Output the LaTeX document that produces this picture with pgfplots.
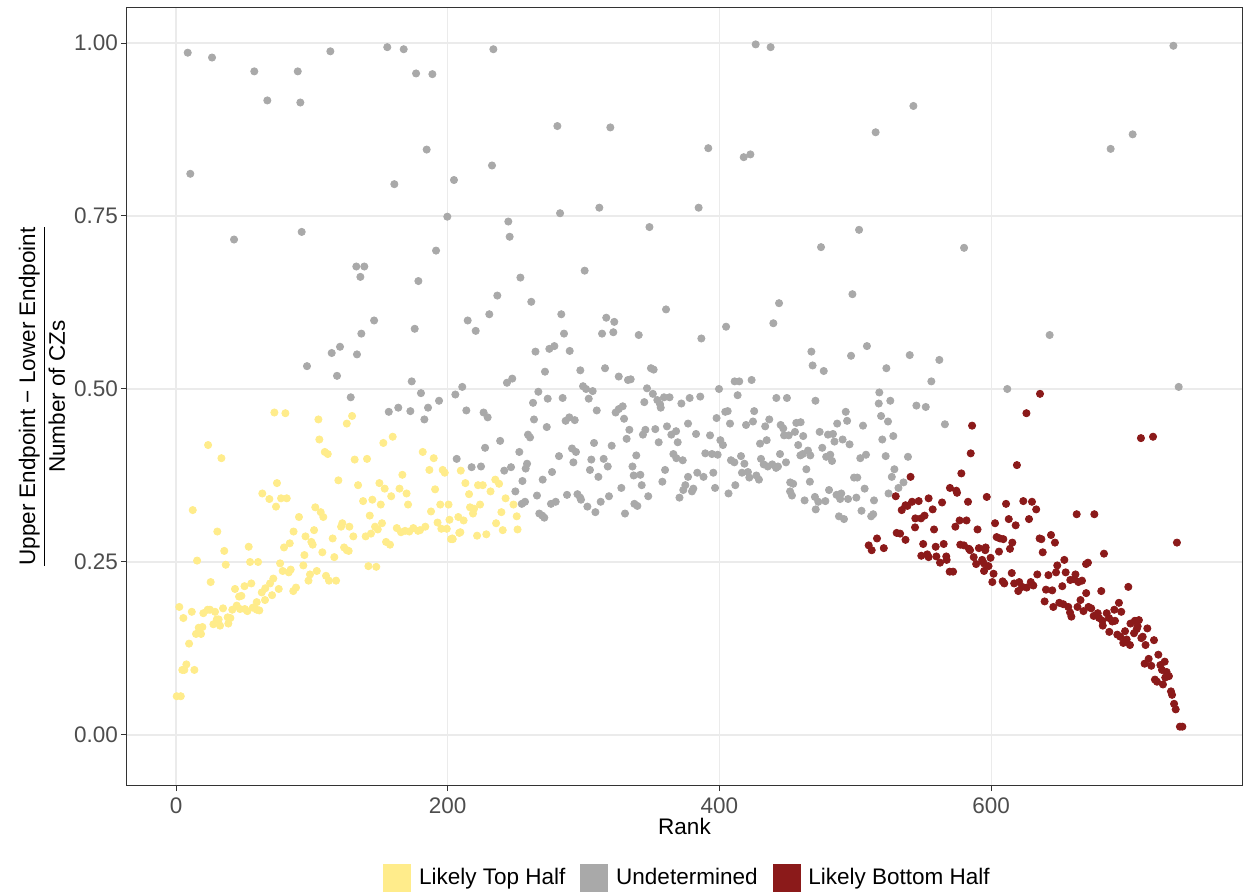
\documentclass[border=0pt]{standalone}
\usepackage{fontspec}
\setmainfont{Liberation Sans}
\usepackage{amsmath}
\usepackage{pgfplots}
\pgfplotsset{compat=1.18}
\definecolor{yelC}{HTML}{FFEC8B}
\definecolor{grayC}{HTML}{A9A9A9}
\definecolor{redC}{HTML}{8B1A1A}
\definecolor{gridC}{HTML}{EBEBEB}
\definecolor{tickC}{HTML}{4D4D4D}
\definecolor{frameC}{HTML}{333333}
\newcommand{\fs}{\fontsize{11.25bp}{13.5bp}\selectfont}
\begin{document}
\begin{tikzpicture}
\useasboundingbox (-63.5bp,-54.5bp) rectangle (558bp,392.5bp);
\begin{axis}[
  at={(0,0)}, anchor=south west,
  scale only axis, width=557.5bp, height=388.5bp,
  xmin=-36.1, xmax=784.7, ymin=-0.0723, ymax=1.0506,
  axis line style={frameC, line width=0.5bp},
  xtick={0,200,400,600}, ytick={0,0.25,0.5,0.75,1},
  yticklabels={0.00,0.25,0.50,0.75,1.00},
  xtick pos=bottom, ytick pos=left,
  tick align=outside, major tick length=3bp,
  tick style={frameC, line width=0.5bp},
  grid=major, major grid style={gridC, line width=0.6bp},
  /pgf/number format/assume math mode=true,
  ticklabel style={font=\fs, text=tickC},
  yticklabel style={xshift=2bp},
  xlabel={Rank},
  xlabel style={font=\fs, at={(axis description cs:0.5,0)}, anchor=center, yshift=-20.5bp},
  ylabel={$\dfrac{\mbox{Upper Endpoint − Lower Endpoint}}{\mbox{Number of CZs}}$},
  ylabel style={font=\fs, at={(axis description cs:0,0.5)}, anchor=center, yshift=42.5bp},
  legend style={at={(axis description cs:0.5,0)}, anchor=center, yshift=-46.5bp, xshift=1.5bp, draw=none, fill=none, font=\fs, legend columns=3, /tikz/every even column/.append style={column sep=6.5bp}, nodes={inner sep=1bp}},
  legend cell align=left,
]
\addlegendimage{legend image code/.code={\fill[yelC] (0bp,-6.75bp) rectangle (13.5bp,6.75bp);}}
\addlegendentry{\hspace{3bp}Likely Top Half}
\addlegendimage{legend image code/.code={\fill[grayC] (0bp,-6.75bp) rectangle (13.5bp,6.75bp);}}
\addlegendentry{\hspace{3bp}Undetermined}
\addlegendimage{legend image code/.code={\fill[redC] (0bp,-6.75bp) rectangle (13.5bp,6.75bp);}}
\addlegendentry{\hspace{3bp}Likely Bottom Half}
% Undetermined
\addplot[only marks, mark=*, mark size=1.8bp, color=grayC, mark options={draw=none}, forget plot] coordinates {
(8.6,.986)(26.5,.979)(57.6,.959)(89.6,.959)(67.2,.917)(91.5,.914)(113.6,.988)(155.5,.994)(167.6,.991)(176.7,.956)(188.7,.955)(233.6,.991)(10.5,.811)(184.5,.846)(160.7,.796)(204.6,.802)(232.6,.823)(199.7,.749)(244.6,.742)(245.6,.720)(42.7,.716)(92.5,.727)(191.4,.700)(132.7,.677)(138.6,.677)(135.7,.662)(178.4,.656)(253.5,.661)(236.5,.635)(261.5,.626)(230.6,.608)(214.7,.599)(220.6,.584)(145.8,.599)(136.4,.580)(175.7,.587)
(426.7,.998)(437.7,.994)(280.7,.880)(319.7,.878)(391.8,.848)(417.9,.835)(422.8,.839)(515,.871)(282.7,.754)(311.6,.762)(384.7,.762)(348.5,.734)(502.8,.730)(474.8,.705)(300.8,.671)(497.9,.637)(443.9,.624)(283.6,.608)(360.7,.615)(316.7,.603)(322.6,.597)(285.6,.580)(313.6,.580)(321.9,.582)(340.6,.578)(386.7,.573)(404.9,.590)(439.7,.595)
(734.2,.996)(542.8,.909)(704.2,.868)(688,.847)(580.1,.704)(643.1,.578)(540.1,.549)(561.9,.542)(556,.511)(611.9,.500)(738.1,.503)(545,.476)(551.9,.474)(566,.449)
(274.8,.558)(278.5,.562)(289.8,.555)(271.6,.525)(297.6,.527)(315.8,.530)(325.9,.518)(332.7,.513)(334.7,.514)(349.6,.530)(351.6,.528)(411.2,.511)(414.6,.511)(273.6,.486)(284.6,.487)(299.6,.504)(301.8,.500)(306.7,.497)(303.8,.486)(309.7,.469)(323.6,.466)(325.9,.471)(328.8,.475)(329.8,.457)(346.7,.501)(351,.493)(344.7,.481)(354.3,.484)(356.3,.478)(356.8,.473)(359.2,.488)(363.3,.488)(372,.479)(378.1,.487)(385.9,.489)(399.7,.500)(404.3,.467)(406.1,.468)(413.4,.491)(397.9,.458)(407.8,.450)(286.8,.454)(289.5,.459)(293.5,.455)(272.9,.445)(333.7,.441)(343.7,.434)(345.5,.441)(352.8,.442)(361.4,.446)(364.6,.434)(368.1,.439)(376.9,.450)(382.8,.435)(393.1,.433)(400.7,.426)(402.6,.419)(331.7,.428)(307.7,.422)(320.7,.418)(355.3,.423)(369.3,.423)(291.5,.414)(294.4,.409)(281.9,.403)(292.5,.394)(305.7,.398)(314.8,.399)(317.8,.388)(304.7,.383)(310.9,.373)(338.8,.404)(336,.388)(336.9,.375)(341.8,.376)(342.8,.361)(327.8,.357)(358,.366)(360,.383)(366.1,.406)(368.3,.400)(373,.397)(376.9,.373)(383.7,.379)(388.3,.373)(395.5,.379)(389.6,.407)(394.5,.406)(398.7,.405)(408.5,.397)(411,.394)(411.7,.361)(406.7,.349)(396.8,.357)(374.9,.361)(373.4,.354)(380.8,.356)(379.8,.352)(370.6,.343)(269.9,.369)(276.8,.380)(287.8,.347)(295.5,.348)(297.5,.343)(298.1,.340)(276,.334)(279.5,.337)(302.8,.330)(308.7,.322)(312.6,.337)(318.7,.345)(330.5,.320)(337.4,.334)(339.6,.331)(347.6,.345)(269.6,.317)(271.1,.314)
(467.7,.554)(468.6,.534)(476.8,.526)(496.9,.548)(508.6,.562)(522.9,.530)(423.7,.513)(441.9,.487)(449.7,.487)(470.7,.483)(517.7,.495)(517.3,.479)(525.8,.483)(425.6,.468)(419.6,.448)(424.7,.453)(433.7,.446)(436.7,.456)(445.1,.448)(447,.443)(456.6,.451)(459.8,.452)(455.6,.438)(447.6,.433)(451,.433)(461.7,.432)(473.8,.438)(479.9,.434)(483.6,.435)(486.7,.450)(494,.454)(493,.467)(505.7,.447)(519,.461)(524.1,.453)(528,.432)(519.9,.427)(490.7,.427)(495.8,.420)(484.7,.424)(429.9,.421)(434.8,.426)(458,.419)(475.7,.415)(418.4,.392)(415.9,.403)(430.6,.399)(432.6,.391)(435.6,.388)(438.9,.391)(441.7,.386)(443.1,.388)(444.6,.406)(449,.394)(459.6,.404)(461.3,.406)(466.9,.404)(465.2,.411)(464,.384)(478.6,.402)(481.6,.405)(482.9,.396)(503.7,.400)(507.9,.405)(522.4,.403)(538.8,.402)(416.6,.379)(421,.380)(422,.372)(427.2,.375)(429.1,.369)(452.1,.365)(454.3,.363)(466.6,.366)(452,.352)(453.4,.346)(470.3,.344)(472.8,.337)(462.7,.339)(470.9,.326)(478,.338)(480.7,.354)(486.2,.347)(489.7,.349)(488.9,.341)(494.7,.341)(499.1,.372)(501.5,.372)(500.8,.343)(506.9,.356)(513.8,.339)(504.6,.324)(488,.316)(491.7,.312)(511.7,.316)(513.2,.319)(526.9,.373)(535.5,.365)(531.8,.357)(524.5,.349)(528.8,.384)
(173.5,.511)(180.3,.494)(156.6,.467)(163.6,.473)(172.5,.468)(185.5,.473)(182.8,.456)(193.6,.483)(205.6,.492)(210.7,.503)(213.7,.469)(226.4,.466)(229.4,.459)(243.6,.509)(247.5,.515)(264.6,.554)(266.7,.496)(262.8,.480)(263.5,.456)(238.6,.425)(227.5,.415)(252.7,.409)(259.1,.434)(260.6,.430)(206.6,.399)(217.6,.387)(224.5,.388)(241.6,.382)(246.6,.387)(258.4,.392)(257.4,.385)(255,.367)(249.8,.352)(265.7,.346)(254.5,.334)(256.9,.337)(267.4,.320)
(96.4,.533)(114.6,.552)(120.7,.561)(133.2,.550)(118.5,.519)(128.6,.488)
};
% Likely Top Half
\addplot[only marks, mark=*, mark size=1.8bp, color=yelC, mark options={draw=none}, forget plot] coordinates {
(72.4,.466)(80.5,.465)(104.8,.456)(129.6,.461)(125.7,.450)(105.5,.427)(109.5,.409)(111.7,.406)(131.5,.398)(23.6,.419)(33.4,.400)(119.5,.368)(134,.361)(74.3,.364)(63.5,.349)(68.7,.341)(77.3,.342)(81.5,.342)(73.6,.330)(12.3,.325)(90.5,.315)(102.5,.329)(106.5,.322)(108.4,.315)(122.4,.306)(121.5,.301)(127.6,.301)(130.5,.287)(30.4,.294)(86.5,.294)(95.3,.287)(101.6,.296)(115.3,.284)
(53.5,.272)(35.5,.266)(15.5,.252)(36.6,.246)(54.5,.250)(60.4,.250)(79.5,.271)(83.7,.277)(99.6,.279)(100.6,.275)(107.7,.264)(116.5,.257)(123.7,.271)(125.7,.267)(127.1,.266)(76.6,.248)(94.5,.260)(93.7,.245)(78.5,.237)(83,.235)(84.4,.239)(98.6,.232)(103.6,.237)(110.4,.230)(112.6,.223)(117.8,.223)(97.5,.223)(25.5,.221)(43.4,.211)(50.4,.215)(55.4,.219)(71.6,.226)(69.2,.219)(65.7,.212)(63.1,.206)(75.6,.211)(70.7,.202)(65.5,.195)(59.4,.192)(86.3,.208)(88.3,.213)(46.4,.200)(48.1,.201)(34.6,.183)(41.4,.181)(44.7,.187)(47.1,.182)(50.6,.182)(52.5,.179)(56.5,.184)(59.4,.181)(61.3,.180)(2.4,.185)(11.6,.178)(5.4,.169)(20.1,.176)(23.3,.181)(25,.181)(28.7,.178)(30,.167)(31.4,.167)(27.5,.160)(32.4,.158)(38.5,.161)(40,.169)(38,.170)(19.4,.156)(16.7,.155)(14.7,.146)(18.4,.146)(9.6,.132)(7.6,.102)(4.6,.094)(6.1,.094)(13.5,.094)(0.5,.056)(3.5,.056)
(152.6,.422)(159.5,.431)(140.6,.399)(181.6,.409)(189.7,.400)(166.6,.376)(186.5,.383)(196.3,.383)(197.8,.379)(149.7,.364)(153.6,.356)(158.4,.345)(164.5,.356)(169.7,.349)(190.7,.355)(137.7,.338)(144.5,.340)(150.7,.333)(170.8,.333)(209.6,.382)(213,.364)(215.7,.348)(222.3,.361)(225.8,.361)(235,.369)(237.8,.363)(231.5,.352)(242.6,.342)(248.4,.333)(194.5,.333)(200.6,.333)(216.4,.329)(219.4,.327)(223.8,.333)(218.6,.320)(239.5,.322)(250.8,.316)(187.7,.323)(142.6,.317)(192.5,.307)(201.3,.311)(207.8,.315)(211.7,.310)(151.6,.306)(146.5,.301)(148.5,.297)(143.5,.291)(139.6,.287)(162.5,.299)(165.6,.293)(168.6,.295)(171.7,.294)(174.7,.299)(178.1,.295)(179.6,.296)(183.5,.301)(195.3,.298)(199.3,.298)(209.3,.293)(235.6,.306)(240.5,.296)(251.4,.297)(221.6,.288)(228.4,.290)(203.3,.284)
(154.6,.279)(157.5,.275)(202.4,.283)(203.7,.283)(208.5,.292)(141.6,.244)(147.4,.243)
};
% Likely Bottom Half
\addplot[only marks, mark=*, mark size=1.8bp, color=redC, mark options={draw=none}, forget plot] coordinates {
(636,.493)(626,.465)(586,.447)(710.3,.429)(719.2,.431)(736.8,.278)(585,.407)(619,.390)(578.1,.378)(540.7,.373)(569.7,.357)(574.4,.353)(574.9,.350)(596.8,.344)(529.8,.345)(537,.332)(541.8,.337)(546.7,.338)(534.2,.325)(554,.342)(544.2,.313)(548.4,.313)(551,.317)(544,.300)(563.9,.336)(583,.337)(611,.334)(623.7,.338)(630.1,.337)(633.2,.326)(627.9,.312)(613,.312)(618.1,.303)(602.9,.306)(538.4,.331)(557,.326)(558,.297)(573.7,.301)(576.8,.310)(581.9,.310)(590,.297)(530.5,.292)(533,.291)(537,.282)(516,.284)(509.9,.274)(512.1,.267)(521,.270)(550,.276)(559.2,.272)(565.1,.276)(577.3,.275)(580,.274)(583.7,.269)(584.5,.267)(591,.270)(596,.271)(604.1,.286)(606.5,.284)(609,.283)(615.6,.278)(613.9,.269)(605.8,.265)(635.7,.284)(548.6,.259)(553,.261)(554,.257)(559.7,.258)(562.4,.249)(567,.258)(567.3,.253)(569.5,.236)(572,.236)(587.2,.257)(589,.247)(593.4,.253)(594.7,.248)(595.7,.267)(598.1,.244)(599.6,.256)(594.8,.237)(601.8,.233)(600.9,.221)(608.5,.222)(609.7,.219)(615.2,.234)(617,.219)(620.7,.221)(620,.208)(622.9,.214)(626.2,.213)(629.2,.221)(631.1,.216)(634,.232)
(663,.319)(676,.319)(637,.283)(644.1,.289)(647,.278)(638,.264)(683.1,.262)(669.9,.247)(671.3,.249)(653.9,.253)(648.7,.245)(642.2,.231)(647.8,.235)(654.9,.235)(662.1,.232)(661.2,.225)(658.3,.224)(664.3,.221)(666.9,.223)(640.4,.210)(645,.209)(652.4,.215)(670,.205)(681.1,.208)(701,.214)(639.4,.193)(645.8,.185)(650.2,.191)(653.1,.189)(656.8,.185)(658.1,.177)(659.1,.171)(665.8,.195)(663.6,.185)(668,.179)(671.7,.185)(673.7,.183)(675.5,.172)(678.5,.176)(679.5,.169)(681.9,.165)(685.1,.176)(686.8,.169)(682.2,.158)(687,.149)(689.2,.164)(691.2,.165)(690.7,.181)(694.1,.191)(695.8,.178)(692.9,.145)(695.1,.142)(697.3,.133)(699.8,.138)(702.2,.130)(698.6,.150)(702.6,.161)(705.8,.165)(708.8,.166)(705.2,.147)(707.2,.153)(707.9,.157)(711.6,.142)(710.6,.140)(715,.154)(713.7,.130)(719.9,.137)(716,.110)(713,.103)(717.9,.100)(723.1,.116)(724.6,.101)(727.8,.106)(725.8,.094)(729.2,.091)(730.9,.085)(720.6,.080)(722.1,.077)(728.2,.083)(726.5,.073)(732.4,.063)(733.2,.058)(734.7,.045)(735.9,.037)(739,.012)(740.8,.012)
};
\end{axis}
\end{tikzpicture}
\end{document}
